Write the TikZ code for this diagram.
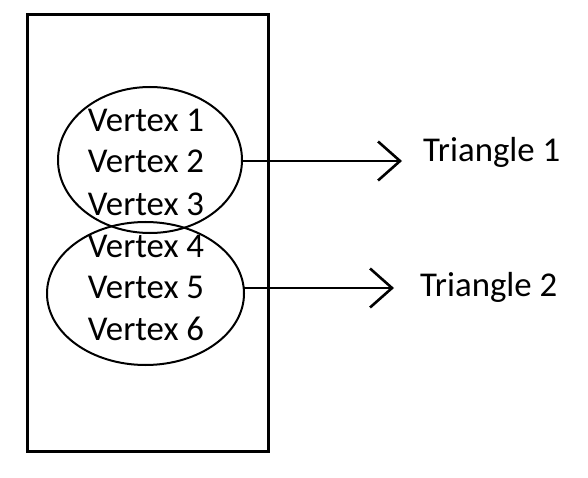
\documentclass[tikz,border=0pt]{standalone}
\usepackage{fontspec}
\setmainfont{Carlito}
\usetikzlibrary{arrows.meta}
\usetikzlibrary{shapes.geometric}
\tikzset{>={Straight Barb[length=22pt,width=39pt,line width=2.6pt]}}

\begin{document}
\begin{tikzpicture}[x=1pt, y=-1pt, font=\fontsize{34.8}{40}\selectfont]
      \useasboundingbox (0,0) rectangle (588,478);
      % box
      \draw[line width=3pt] (27,15) rectangle (268,451);
      % groups
      \node[draw, ellipse, line width=2pt, inner sep=0, outer sep=0,
        minimum width=184pt, minimum height=146pt] (e1) at (150,160) {};
      \node[draw, ellipse, line width=2pt, inner sep=0, outer sep=0,
        minimum width=197pt, minimum height=143pt] (e2) at (145.5,293.5) {};
      % vertices
      \foreach \i/\y in {1/132, 2/173, 3/215, 4/257, 5/298, 6/340}
        \node[anchor=base, inner sep=0] (v\i) at (146,\y) {Vertex \i};
      % triangles
      \node[anchor=base west, inner sep=0] (t1) at (423,162) {Triangle 1};
      \node[anchor=base west, inner sep=0] (t2) at (420,296) {Triangle 2};
      \coordinate (tip1) at (402,161);
      \coordinate (tip2) at (394,288);
      % arrows
      \draw[->, line width=2.6pt] (e1.east |- tip1) -- (tip1);
      \draw[->, line width=2.6pt] (e2.east |- tip2) -- (tip2);
    \end{tikzpicture}
\end{document}
